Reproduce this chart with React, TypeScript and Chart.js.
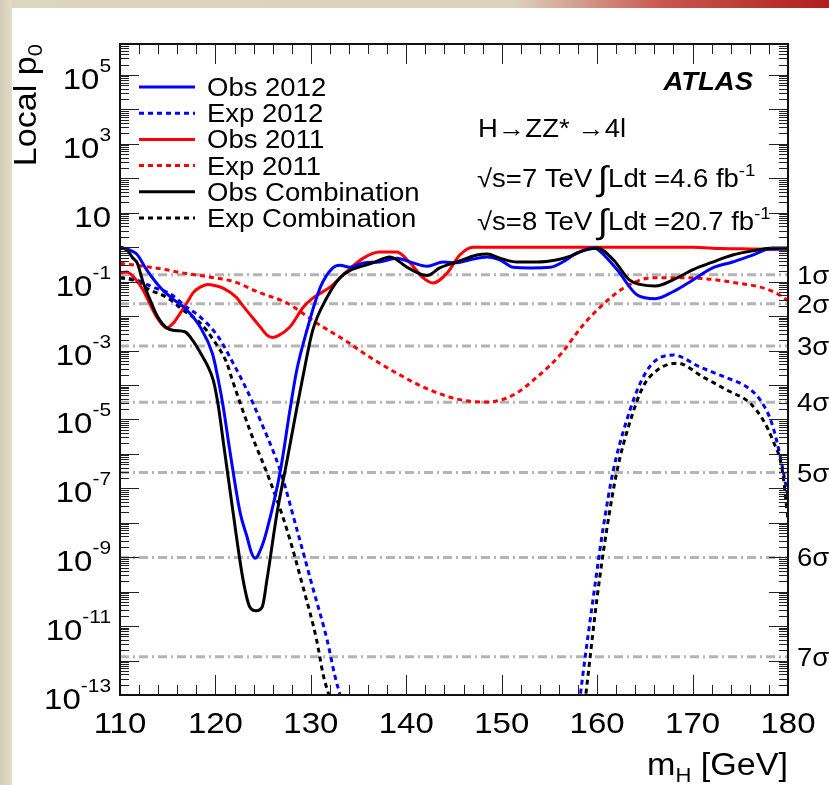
import React, { useEffect, useRef } from 'react';
import { Chart, registerables } from 'chart.js';

Chart.register(...registerables);

const W = 829;
const H = 785;

// ---- data (mH in GeV, local p0) ----
const obs2012M = [110.0, 111.0, 111.75, 112.8, 114.2, 115.5, 117.0, 118.4, 119.7, 120.3, 120.8, 121.5, 122.6, 123.3, 123.8, 124.15, 124.85, 125.4, 126.8, 127.8, 128.5, 129.6, 131.0, 132.3, 133.05, 134.1, 135.5, 137.2, 139.0, 140.7, 142.2, 143.85, 145.3, 146.7, 148.5, 149.8, 151.2, 153.0, 155.1, 156.4, 157.9, 159.6, 160.0, 162.1, 164.2, 166.1, 167.9, 170.0, 172.1, 174.2, 176.3, 178.1, 180.0];
const obs2012P = [1.0, 0.83, 0.63, 0.22, 0.069, 0.032, 0.015, 4.8e-3, 7.9e-4, 1.4e-4, 2.5e-5, 1.3e-6, 1.9e-8, 4.0e-9, 1.3e-9, 9.3e-10, 2.0e-9, 6.2e-9, 3.2e-7, 1.8e-5, 2.5e-4, 4.0e-3, 0.069, 0.25, 0.30, 0.26, 0.35, 0.37, 0.48, 0.35, 0.28, 0.37, 0.35, 0.43, 0.52, 0.43, 0.26, 0.25, 0.26, 0.37, 0.68, 0.95, 0.89, 0.22, 0.041, 0.032, 0.05, 0.11, 0.25, 0.37, 0.59, 0.89, 0.89];

const exp2012M = [110.0, 111.75, 113.45, 115.2, 117.0, 118.5, 120.3, 121.85, 123.3, 124.7, 126.8, 128.55, 130.2, 131.7, 132.5, 133.3, 134.0, 146.0, 157.8, 158.5, 159.6, 160.6, 161.7, 163.1, 164.5, 165.85, 167.95, 170.8, 173.6, 175.7, 177.1, 178.3, 179.2, 180.0];
const exp2012P = [0.13, 0.11, 0.069, 0.045, 0.018, 8.9e-3, 2.5e-3, 4.3e-4, 7.1e-5, 9.5e-6, 3.2e-7, 6.2e-9, 1.3e-10, 4.0e-12, 3.8e-13, 5.6e-14, 1e-14, null, 1e-14, 3.8e-13, 6.9e-11, 6.2e-9, 3.4e-7, 9.5e-6, 1.1e-4, 4.4e-4, 7.4e-4, 3.3e-4, 1.6e-4, 8.7e-5, 3.6e-5, 7.8e-6, 8.1e-7, 5.6e-8];

const obs2011M = [110.0, 110.7, 111.5, 112.4, 113.3, 113.9, 114.9, 115.6, 116.3, 117.0, 117.65, 118.4, 119.2, 120.0, 120.8, 122.2, 122.6, 123.9, 124.7, 125.4, 126.0, 126.5, 127.8, 129.2, 130.2, 132.0, 133.8, 135.5, 137.2, 139.0, 140.4, 141.75, 142.8, 144.3, 145.6, 147.0, 160.0, 170.0, 173.0, 176.0, 180.0];
const obs2011P = [0.18, 0.19, 0.13, 0.058, 0.018, 8.9e-3, 4.5e-3, 6.3e-3, 0.012, 0.024, 0.047, 0.069, 0.083, 0.076, 0.065, 0.035, 0.025, 8.9e-3, 4.8e-3, 2.8e-3, 2.4e-3, 2.6e-3, 4.8e-3, 0.018, 0.033, 0.069, 0.2, 0.48, 0.72, 0.72, 0.35, 0.13, 0.091, 0.18, 0.59, 1.0, 1.0, 1.0, 0.91, 0.89, 0.87];

const exp2011M = [110.0, 112.8, 114.9, 116.0, 119.1, 121.9, 124.7, 127.5, 130.6, 133.8, 135.5, 139.0, 142.5, 145.9, 148.5, 151.2, 153.7, 156.2, 158.4, 160.3, 162.7, 165.85, 168.7, 171.5, 174.2, 177.1, 178.8, 180.0];
const exp2011P = [0.34, 0.27, 0.22, 0.19, 0.14, 0.1, 0.047, 0.024, 6.3e-3, 1.8e-3, 8.5e-4, 2.2e-4, 7.1e-5, 3.6e-5, 3.2e-5, 5.1e-5, 1.7e-4, 7.9e-4, 5.0e-3, 0.018, 0.063, 0.13, 0.13, 0.12, 0.095, 0.069, 0.046, 0.028];

const obsCombM = [110.0, 110.8, 111.3, 111.8, 112.4, 113.1, 113.9, 114.9, 115.8, 116.8, 117.6, 118.5, 119.2, 119.8, 120.3, 120.8, 121.8, 122.9, 123.6, 124.25, 124.9, 125.4, 126.45, 127.5, 128.55, 129.1, 130.2, 131.7, 133.05, 134.1, 134.8, 136.5, 138.3, 140.1, 142.2, 143.5, 145.3, 147.4, 148.5, 149.8, 151.6, 153.7, 155.8, 157.2, 158.5, 160.0, 161.7, 163.4, 164.5, 166.1, 167.9, 170.0, 172.1, 174.2, 176.3, 178.4, 180.0];
const obsCombP = [1.0, 0.79, 0.5, 0.35, 0.1, 0.032, 0.01, 4.5e-3, 3.8e-3, 3.5e-3, 2.0e-3, 7.9e-4, 3.5e-4, 1.3e-4, 2.5e-5, 2.5e-6, 2.5e-8, 2.2e-10, 3.6e-11, 2.8e-11, 3.6e-11, 2.2e-10, 1.9e-8, 6.3e-7, 2.3e-5, 1.4e-4, 3.9e-3, 0.035, 0.13, 0.21, 0.25, 0.35, 0.52, 0.26, 0.15, 0.25, 0.37, 0.59, 0.63, 0.48, 0.37, 0.37, 0.43, 0.55, 0.78, 0.95, 0.43, 0.11, 0.083, 0.074, 0.11, 0.22, 0.37, 0.59, 0.78, 0.95, 0.95];

const expCombM = [110.0, 111.4, 113.1, 114.9, 116.6, 118.4, 119.8, 121.2, 121.7, 123.6, 125.7, 127.5, 129.2, 130.6, 131.3, 132.0, 133.0, 146.0, 158.4, 159.05, 160.0, 161.0, 162.1, 163.4, 164.8, 166.3, 168.4, 171.1, 173.6, 176.0, 177.4, 178.4, 179.4, 180.0];
const expCombP = [0.13, 0.11, 0.058, 0.035, 0.015, 6.3e-3, 2.0e-3, 4.3e-4, 1.6e-4, 4.9e-6, 1.7e-7, 6.2e-9, 1.3e-10, 4.0e-12, 3.8e-13, 7.9e-14, 1e-14, null, 1e-14, 3.8e-13, 6.9e-11, 6.2e-9, 3.4e-7, 7.8e-6, 8.7e-5, 2.7e-4, 4.3e-4, 1.7e-4, 7.1e-5, 3.0e-5, 9.5e-6, 2.5e-6, 3.4e-7, 1.2e-8];

const seriesLabels = ['Obs 2012', 'Exp 2012', 'Obs 2011', 'Exp 2011', 'Obs Combination', 'Exp Combination'];
const sigmaP = [0.1587, 0.02275, 1.35e-3, 3.17e-5, 2.87e-7, 9.87e-10, 1.28e-12];
const sigmaLabels = ['1σ', '2σ', '3σ', '4σ', '5σ', '6σ', '7σ'];
const yTickExponents = [5, 3, 1, -1, -3, -5, -7, -9, -11, -13];
const xTickLabels = [110, 120, 130, 140, 150, 160, 170, 180];

const X_MIN = 110;
const X_MAX = 180;
const Y_MIN = 1e-13;
const Y_MAX = 7.9e5;

const BLUE = '#0000ff';
const RED = '#ff0000';
const BLACK = '#000000';
const FONT = '"Liberation Sans", Arial, Helvetica, sans-serif';
const SX = 1.1;

function zip(m: number[], p: (number | null)[]) {
  return m.map((x, i) => ({ x, y: p[i] }));
}

function measure(ctx: CanvasRenderingContext2D, s: string, size: number, style = '') {
  ctx.font = `${style}${size}px ${FONT}`;
  return ctx.measureText(s).width * SX;
}

function drawText(
  ctx: CanvasRenderingContext2D,
  s: string,
  x: number,
  y: number,
  size: number,
  align: 'left' | 'right' | 'center' = 'left',
  style = ''
) {
  const w = measure(ctx, s, size, style);
  const x0 = align === 'right' ? x - w : align === 'center' ? x - w / 2 : x;
  ctx.save();
  ctx.font = `${style}${size}px ${FONT}`;
  ctx.translate(x0, y);
  ctx.scale(SX, 1);
  ctx.textAlign = 'left';
  ctx.textBaseline = 'alphabetic';
  ctx.fillStyle = '#000';
  ctx.fillText(s, 0, 0);
  ctx.restore();
  return w;
}

const datasetStyles = [
  { label: seriesLabels[0], color: BLUE, dash: [] as number[], order: 1 },
  { label: seriesLabels[1], color: BLUE, dash: [5, 4], order: 4 },
  { label: seriesLabels[2], color: RED, dash: [] as number[], order: 2 },
  { label: seriesLabels[3], color: RED, dash: [5, 4], order: 5 },
  { label: seriesLabels[4], color: BLACK, dash: [] as number[], order: 0 },
  { label: seriesLabels[5], color: BLACK, dash: [5, 4], order: 3 },
];

const seriesData = [
  zip(obs2012M, obs2012P),
  zip(exp2012M, exp2012P),
  zip(obs2011M, obs2011P),
  zip(exp2011M, exp2011P),
  zip(obsCombM, obsCombP),
  zip(expCombM, expCombP),
];

const rootPlugin = {
  id: 'rootStyle',
  beforeDraw(chart: any) {
    const ctx: CanvasRenderingContext2D = chart.ctx;
    ctx.save();
    ctx.fillStyle = '#ffffff';
    ctx.fillRect(0, 0, W, H);
    const top = ctx.createLinearGradient(0, 0, W, 0);
    top.addColorStop(0, '#dcd5c0');
    top.addColorStop(0.62, '#dcd2bd');
    top.addColorStop(0.8, '#c8574f');
    top.addColorStop(1, '#b01d1d');
    ctx.fillStyle = top;
    ctx.fillRect(0, 0, W, 8);
    const left = ctx.createLinearGradient(0, 0, 12, 0);
    left.addColorStop(0, '#d4cdb5');
    left.addColorStop(1, '#e2dcc8');
    ctx.fillStyle = left;
    ctx.fillRect(0, 0, 12, H);
    ctx.restore();
  },
  beforeDatasetsDraw(chart: any) {
    const ctx: CanvasRenderingContext2D = chart.ctx;
    const { left, right } = chart.chartArea;
    const y = chart.scales.y;
    ctx.save();
    ctx.strokeStyle = '#b4b4b4';
    ctx.lineWidth = 3;
    ctx.setLineDash([9, 4, 2, 4]);
    for (const p of sigmaP) {
      const py = y.getPixelForValue(p);
      ctx.beginPath();
      ctx.moveTo(left, py);
      ctx.lineTo(right, py);
      ctx.stroke();
    }
    ctx.restore();
  },
  afterDatasetsDraw(chart: any) {
    const ctx: CanvasRenderingContext2D = chart.ctx;
    const { left, right, top, bottom } = chart.chartArea;
    const xs = chart.scales.x;
    const ys = chart.scales.y;
    ctx.save();

    // ticks
    ctx.strokeStyle = '#222';
    ctx.lineWidth = 1;
    ctx.setLineDash([]);
    ctx.beginPath();
    for (let m = X_MIN; m <= X_MAX; m += 2) {
      const px = Math.round(xs.getPixelForValue(m)) + 0.5;
      const len = m % 10 === 0 ? 20 : 10;
      ctx.moveTo(px, bottom);
      ctx.lineTo(px, bottom - len);
      ctx.moveTo(px, top);
      ctx.lineTo(px, top + len);
    }
    for (let d = -13; d <= 5; d++) {
      for (let k = 1; k <= 9; k++) {
        const v = k * Math.pow(10, d);
        if (v < Y_MIN * 0.999 || v > Y_MAX) continue;
        const py = Math.round(ys.getPixelForValue(v)) + 0.5;
        const len = k === 1 ? 19 : 9;
        ctx.moveTo(left, py);
        ctx.lineTo(left + len, py);
        ctx.moveTo(right, py);
        ctx.lineTo(right - len, py);
      }
    }
    ctx.stroke();

    // frame
    ctx.lineWidth = 2;
    ctx.strokeStyle = '#111';
    ctx.strokeRect(left, top, right - left, bottom - top);

    // y tick labels
    for (const e of yTickExponents) {
      const py = ys.getPixelForValue(Math.pow(10, e));
      const sup = e === 1 ? '' : String(e);
      const wSup = sup ? measure(ctx, sup, 19) : 0;
      const wBase = measure(ctx, '10', 30);
      const xr = left - 9;
      drawText(ctx, '10', xr - wSup - wBase, py + 14, 30);
      if (sup) drawText(ctx, sup, xr - wSup, py - 3, 19);
    }

    // x tick labels
    for (const v of xTickLabels) {
      const px = xs.getPixelForValue(v);
      drawText(ctx, String(v), px, bottom + 38, 30, 'center');
    }

    // x title: m_H [GeV]
    {
      const wM = measure(ctx, 'm', 31);
      const wH = measure(ctx, 'H', 20);
      const wG = measure(ctx, ' [GeV]', 31);
      const x0 = right - (wM + wH + wG);
      const base = 775;
      drawText(ctx, 'm', x0, base, 31);
      drawText(ctx, 'H', x0 + wM, base + 7, 20);
      drawText(ctx, ' [GeV]', x0 + wM + wH, base, 31);
    }

    // y title: Local p_0 (rotated)
    {
      const wL = measure(ctx, 'Local p', 31);
      const w0 = measure(ctx, '0', 20);
      ctx.save();
      ctx.translate(36, top);
      ctx.rotate(-Math.PI / 2);
      drawText(ctx, 'Local p', -(wL + w0), 0, 31);
      drawText(ctx, '0', -w0, 6, 20);
      ctx.restore();
    }

    // sigma labels
    for (let i = 0; i < sigmaP.length; i++) {
      const py = ys.getPixelForValue(sigmaP[i]);
      drawText(ctx, sigmaLabels[i], right + 9, py + 9, 25);
    }

    // legend
    const rowY0 = 87;
    const rowStep = 26.2;
    for (let i = 0; i < datasetStyles.length; i++) {
      const s = datasetStyles[i];
      const yy = rowY0 + i * rowStep;
      ctx.save();
      ctx.strokeStyle = s.color;
      ctx.lineWidth = 3;
      ctx.setLineDash(s.dash);
      ctx.beginPath();
      ctx.moveTo(139, yy);
      ctx.lineTo(195, yy);
      ctx.stroke();
      ctx.restore();
      drawText(ctx, s.label, 207, yy + 9, 25);
    }

    // ATLAS label and annotations
    drawText(ctx, 'ATLAS', 753, 90, 25, 'right', 'italic bold ');
    drawText(ctx, 'H\u2192ZZ* \u21924l', 478, 137, 25);
    const lumiLines = [
      { pre: '\u221As=7 TeV ', post: 'Ldt =4.6 fb', base: 187 },
      { pre: '\u221As=8 TeV ', post: 'Ldt =20.7 fb', base: 230 },
    ];
    for (const l of lumiLines) {
      let x = 477;
      x += drawText(ctx, l.pre, x, l.base, 25);
      x += drawText(ctx, '\u222B', x - 2, l.base + 3, 34) - 2;
      x += drawText(ctx, l.post, x, l.base, 25);
      drawText(ctx, '-1', x, l.base - 11, 17);
    }

    ctx.restore();
  },
};

export default function App() {
  const ref = useRef<HTMLCanvasElement>(null);
  useEffect(() => {
    if (!ref.current) return;
    const chart = new Chart(ref.current, {
      type: 'line',
      data: {
        datasets: datasetStyles.map((s, i) => ({
          label: s.label,
          data: seriesData[i] as any,
          borderColor: s.color,
          backgroundColor: s.color,
          borderWidth: 3,
          borderDash: s.dash,
          pointRadius: 0,
          fill: false,
          spanGaps: false,
          cubicInterpolationMode: 'monotone' as const,
          borderJoinStyle: 'round' as const,
          order: s.order,
          clip: 0,
        })),
      },
      options: {
        responsive: false,
        animation: false,
        devicePixelRatio: 1,
        events: [],
        layout: { padding: { left: 120, right: W - 788, top: 44, bottom: H - 695 } },
        plugins: { legend: { display: false }, tooltip: { enabled: false } },
        scales: {
          x: { type: 'linear', min: X_MIN, max: X_MAX, display: false },
          y: { type: 'logarithmic', min: Y_MIN, max: Y_MAX, display: false, bounds: 'data' },
        },
      },
      plugins: [rootPlugin],
    } as any);
    return () => chart.destroy();
  }, []);
  return (
    <div style={{ position: 'fixed', left: 0, top: 0, width: W, height: H, background: '#fff' }}>
      <canvas ref={ref} width={W} height={H} style={{ display: 'block', width: W, height: H }} />
    </div>
  );
}
